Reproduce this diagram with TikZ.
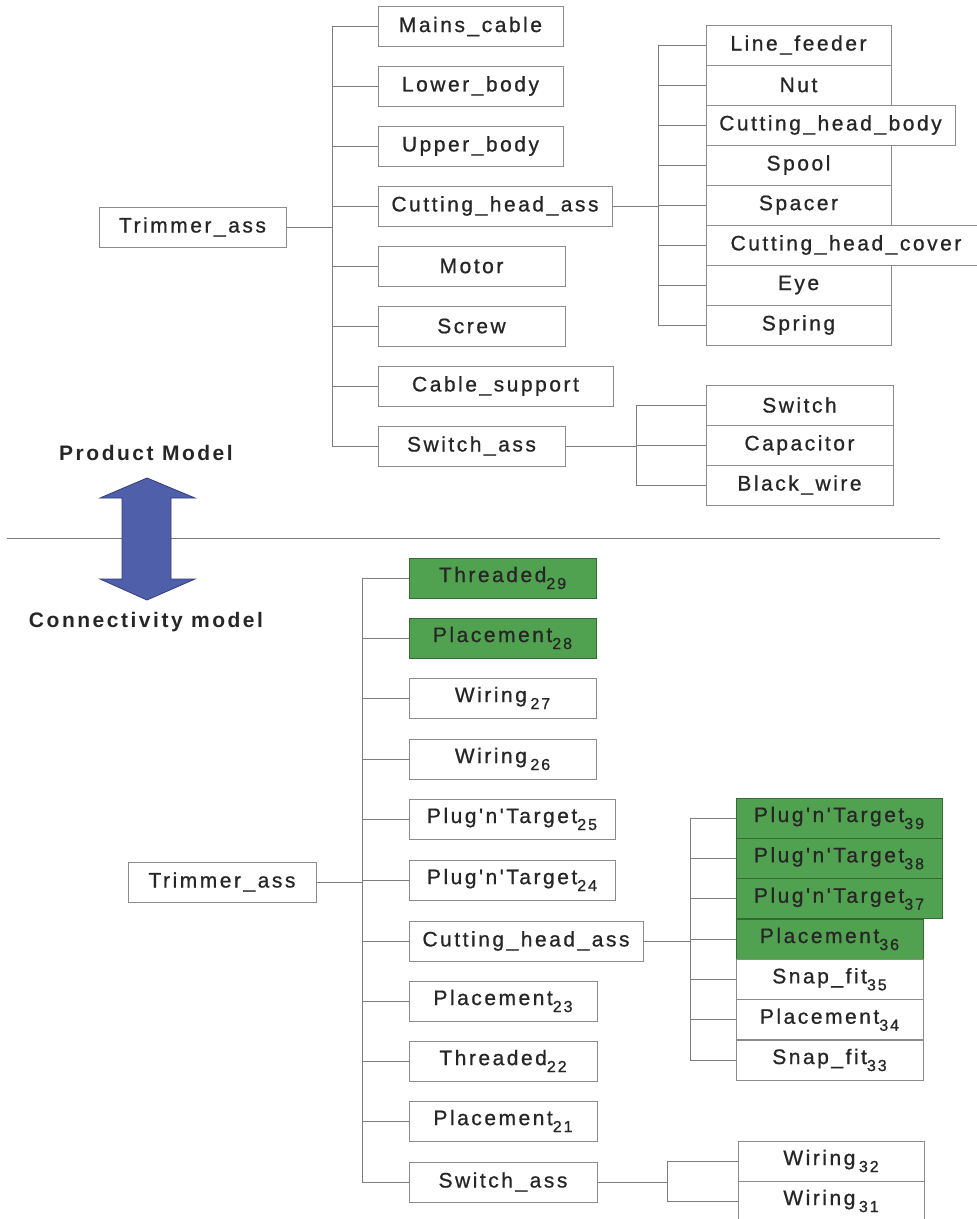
\documentclass[tikz,border=0pt]{standalone}
\usepackage{fontspec}
\newfontfamily\boxfont[LetterSpace=12,Ligatures=TeXOff,FakeBold=0.8]{Liberation Sans}
\newfontfamily\titlefont[LetterSpace=12,Ligatures=TeXOff]{Liberation Sans}
\definecolor{linegray}{RGB}{125,125,125}
\definecolor{boxgray}{RGB}{140,140,140}
\definecolor{textgray}{RGB}{38,38,38}
\definecolor{partgreen}{RGB}{80,162,80}
\definecolor{partgreenline}{RGB}{55,105,55}
\definecolor{arrowblue}{RGB}{79,95,170}
\definecolor{arrowblueline}{RGB}{50,60,125}
% subscript index used in the connection names
\newcommand{\ix}[1]{\raisebox{-7pt}{\fontsize{16}{16}\selectfont #1}}
\begin{document}
\begin{tikzpicture}[x=1pt,y=-1pt,
  part/.style={draw=boxgray,line width=0.9pt,fill=white,minimum height=40,inner sep=0pt,
    text=textgray,font=\boxfont\fontsize{21}{21}\selectfont},
  greenpart/.style={part,fill=partgreen,draw=partgreenline},
  link/.style={draw=linegray,line width=0.9pt},
  title/.style={text=textgray,font=\titlefont\bfseries\fontsize{21}{21}\selectfont}]
\useasboundingbox (0,0) rectangle (977,1219);

% ---------------- product model ----------------
\node[part,minimum width=187] (troot) at (192.5,227) {Trimmer\_ass};
\coordinate (tspine) at (332,0);
\node[part,minimum width=185] (mains) at (470.5,26.5) {Mains\_cable};
\node[part,minimum width=185] (lower) at (470.5,86) {Lower\_body};
\node[part,minimum width=185] (upper) at (470.5,146) {Upper\_body};
\node[part,minimum width=234] (tcha) at (495,206) {Cutting\_head\_ass};
\node[part,minimum width=187] (motor) at (471.5,266) {Motor};
\node[part,minimum width=187] (screw) at (471.5,326) {Screw};
\node[part,minimum width=235] (cable) at (495.5,386) {Cable\_support};
\node[part,minimum width=187] (tsw) at (471.5,446) {Switch\_ass};

\draw[link] (troot.east) -- (troot.east -| tspine);
\draw[link] (mains.west -| tspine) -- (tsw.west -| tspine);
\foreach \n in {mains,lower,upper,tcha,motor,screw,cable,tsw}
  \draw[link] (\n.west -| tspine) -- (\n.west);

% cutting head parts
\coordinate (hspine) at (658,0);
\node[part,minimum width=185] (feeder) at (798.5,45) {Line\_feeder};
\node[part,minimum width=185] (nut) at (798.5,85) {Nut};
\node[part,minimum width=185] (spool) at (798.5,165) {Spool};
\node[part,minimum width=185] (spacer) at (798.5,205) {Spacer};
\node[part,minimum width=185] (eye) at (798.5,285) {Eye};
\node[part,minimum width=185] (spring) at (798.5,325) {Spring};
\node[part,minimum width=249] (hbody) at (830.5,125) {Cutting\_head\_body};
\node[part,minimum width=280] (hcover) at (846,245) {Cutting\_head\_cover};

\draw[link] (tcha.east) -- (tcha.east -| hspine);
\draw[link] (feeder.west -| hspine) -- (spring.west -| hspine);
\foreach \n in {feeder,nut,hbody,spool,spacer,hcover,eye,spring}
  \draw[link] (\n.west -| hspine) -- (\n.west);

% switch parts
\coordinate (sspine) at (636,0);
\node[part,minimum width=187] (switch) at (799.5,405) {Switch};
\node[part,minimum width=187] (capacitor) at (799.5,445) {Capacitor};
\node[part,minimum width=187] (wire) at (799.5,485) {Black\_wire};

\draw[link] (tsw.east) -- (tsw.east -| sspine);
\draw[link] (switch.west -| sspine) -- (wire.west -| sspine);
\foreach \n in {switch,capacitor,wire}
  \draw[link] (\n.west -| sspine) -- (\n.west);

% ---------------- divider ----------------
\coordinate (divl) at (7,538);
\coordinate (divr) at (940,538);
\draw[draw=linegray,line width=1pt] (divl) -- (divr);
\node[title] (pm) at (146,453) {Product Model};
\node[title] (cm) at (146,622) {Connectivity model};
\filldraw[fill=arrowblue,draw=arrowblueline,line width=0.8pt]
  (147,478) -- (195,498) -- (171,498) -- (171,579) -- (195,579) -- (147,600)
  -- (100,579) -- (122,579) -- (122,498) -- (100,498) -- cycle;

% ---------------- connectivity model ----------------
\node[part,minimum width=188] (broot) at (222,882) {Trimmer\_ass};
\coordinate (bspine) at (362,0);
\node[greenpart,minimum width=187] (th29) at (502.5,578) {Threaded\ix{29}};
\node[greenpart,minimum width=187] (pl28) at (502.5,638) {Placement\ix{28}};
\node[part,minimum width=187] (wi27) at (502.5,698) {Wiring\,\ix{27}};
\node[part,minimum width=187] (wi26) at (502.5,759) {Wiring\,\ix{26}};
\node[part,minimum width=206] (pt25) at (512,819) {Plug'n'Target\ix{25}};
\node[part,minimum width=206] (pt24) at (512,880) {Plug'n'Target\ix{24}};
\node[part,minimum width=234] (bcha) at (526,941) {Cutting\_head\_ass};
\node[part,minimum width=188] (pl23) at (503,1001) {Placement\ix{23}};
\node[part,minimum width=188] (th22) at (503,1061) {Threaded\ix{22}};
\node[part,minimum width=188] (pl21) at (503,1121) {Placement\ix{21}};
\node[part,minimum width=188] (bsw) at (503,1182) {Switch\_ass};

\draw[link] (broot.east) -- (broot.east -| bspine);
\draw[link] (th29.west -| bspine) -- (bsw.west -| bspine);
\foreach \n in {th29,pl28,wi27,wi26,pt25,pt24,bcha,pl23,th22,pl21,bsw}
  \draw[link] (\n.west -| bspine) -- (\n.west);

% cutting head connections
\coordinate (cspine) at (690,0);
\node[greenpart,minimum width=206] (pt39) at (839,818) {Plug'n'Target\ix{39}};
\node[greenpart,minimum width=206] (pt38) at (839,858.3) {Plug'n'Target\ix{38}};
\node[greenpart,minimum width=206] (pt37) at (839,898.7) {Plug'n'Target\ix{37}};
\node[greenpart,minimum width=187] (pl36) at (829.5,939) {Placement\ix{36}};
\node[part,minimum width=187] (sf35) at (829.5,979.3) {Snap\_fit\ix{35}};
\node[part,minimum width=187] (pl34) at (829.5,1019.7) {Placement\ix{34}};
\node[part,minimum width=187] (sf33) at (829.5,1060) {Snap\_fit\ix{33}};

\draw[link] (bcha.east) -- (bcha.east -| cspine);
\draw[link] (pt39.west -| cspine) -- (sf33.west -| cspine);
\foreach \n in {pt39,pt38,pt37,pl36,sf35,pl34,sf33}
  \draw[link] (\n.west -| cspine) -- (\n.west);

% switch connections
\coordinate (wspine) at (667,0);
\node[part,minimum width=186] (wi32) at (831,1161) {Wiring\,\ix{32}};
\node[part,minimum width=186] (wi31) at (831,1201) {Wiring\,\ix{31}};

\draw[link] (bsw.east) -- (bsw.east -| wspine);
\draw[link] (wi32.west -| wspine) -- (wi31.west -| wspine);
\foreach \n in {wi32,wi31}
  \draw[link] (\n.west -| wspine) -- (\n.west);
\end{tikzpicture}
\end{document}
